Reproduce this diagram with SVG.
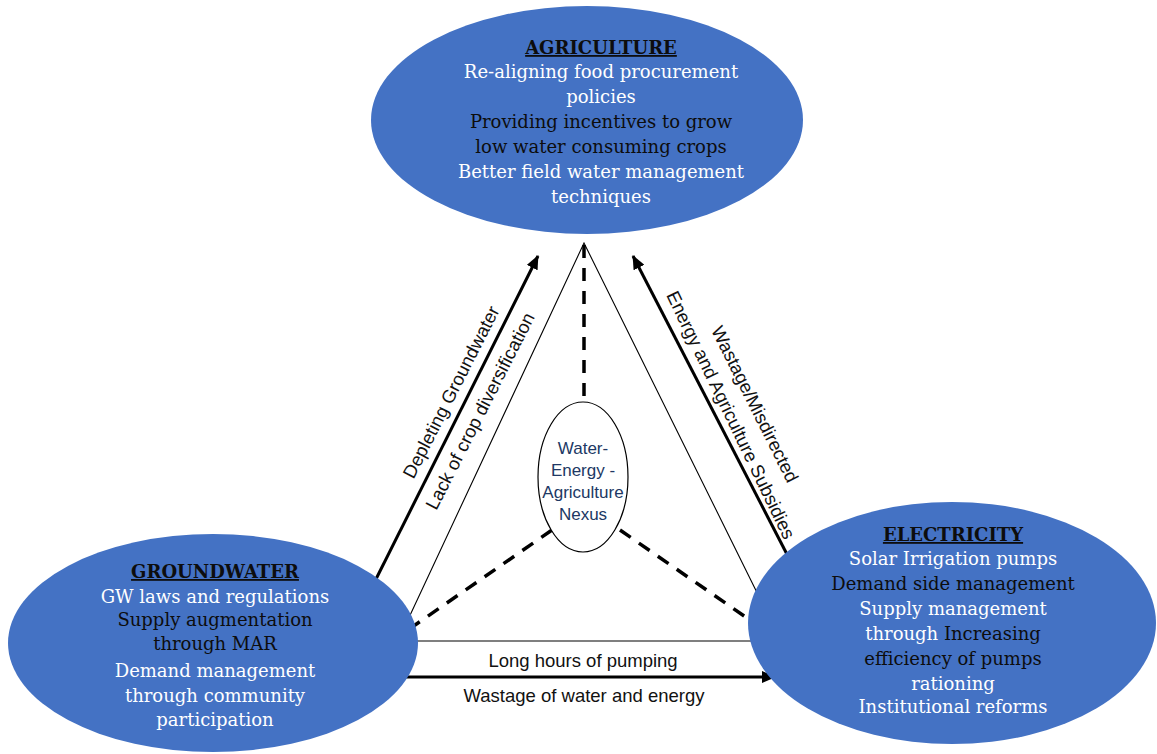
<svg xmlns="http://www.w3.org/2000/svg" width="1157" height="754" viewBox="0 0 1157 754">
<style>
.node{fill:#4472c4;stroke:none}
.t{font-family:"DejaVu Serif","Liberation Serif",serif;font-size:18px;text-anchor:middle}
.w{fill:#ffffff}
.k{fill:#0d0d0d}
.h{font-weight:bold;text-decoration:underline;fill:#0d0d0d}
.lbl{font-family:"Liberation Sans",Arial,sans-serif;font-size:18.5px;fill:#111;text-anchor:middle}
.thin{stroke:#000;stroke-width:1.1;fill:none}
.thick{stroke:#000;stroke-width:3;fill:none}
.dash{stroke:#000;stroke-width:3.5;fill:none;stroke-dasharray:13 10}
.nx{font-family:"Liberation Sans",Arial,sans-serif;font-size:17px;fill:#203864;text-anchor:middle}
</style>
<defs>
<marker id="ah" markerUnits="userSpaceOnUse" markerWidth="14" markerHeight="12" refX="13" refY="6" orient="auto">
<path d="M0,0 L14,6 L0,12 Z" fill="#000"/>
</marker>
</defs>
<rect width="1157" height="754" fill="#ffffff"/>
<g id="connectors">
<polyline class="thin" points="398,641 584,243 781,641"/>
<line class="thin" x1="398" y1="641" x2="781" y2="641"/>
<line class="dash" x1="584" y1="245" x2="584" y2="402"/>
<line class="dash" x1="552" y1="530" x2="405" y2="632"/>
<line class="dash" x1="620" y1="530" x2="760" y2="627"/>
<line class="thick" x1="367" y1="597" x2="538" y2="256" marker-end="url(#ah)"/>
<line class="thick" x1="792" y1="564" x2="633" y2="256" marker-end="url(#ah)"/>
<line class="thick" x1="400" y1="677" x2="775" y2="677" marker-end="url(#ah)"/>
<text class="lbl" transform="translate(451,392) rotate(-63)" y="6.5">Depleting Groundwater</text>
<text class="lbl" transform="translate(480,411) rotate(-63)" y="6.5">Lack of crop diversification</text>
<text class="lbl" transform="translate(755,404) rotate(63.5)" y="6.5">Wastage/Misdirected</text>
<text class="lbl" transform="translate(731,415) rotate(64.3)" y="6.5">Energy and Agriculture Subsidies</text>
<text class="lbl" x="583" y="667">Long hours of pumping</text>
<text class="lbl" x="584" y="702">Wastage of water and energy</text>
</g>
<g id="agriculture">
<ellipse class="node" cx="587" cy="120" rx="216" ry="114"/>
<text class="t h" x="601" y="54">AGRICULTURE</text>
<text class="t w" x="601" y="78">Re-aligning food procurement</text>
<text class="t w" x="601" y="103">policies</text>
<text class="t k" x="601" y="128">Providing incentives to grow</text>
<text class="t k" x="601" y="153">low water consuming crops</text>
<text class="t w" x="601" y="178">Better field water management</text>
<text class="t w" x="601" y="203">techniques</text>
</g>
<g id="nexus">
<ellipse cx="583" cy="477" rx="45" ry="75" fill="#ffffff" stroke="#000" stroke-width="1.2"/>
<text class="nx" x="583" y="454">Water-</text>
<text class="nx" x="583" y="476">Energy -</text>
<text class="nx" x="583" y="498">Agriculture</text>
<text class="nx" x="583" y="520">Nexus</text>
</g>
<g id="groundwater">
<ellipse class="node" cx="213" cy="643" rx="205" ry="109"/>
<text class="t h" x="215" y="578">GROUNDWATER</text>
<text class="t w" x="215" y="603">GW laws and regulations</text>
<text class="t k" x="215" y="626">Supply augmentation</text>
<text class="t k" x="215" y="650">through MAR</text>
<text class="t w" x="215" y="677">Demand management</text>
<text class="t w" x="215" y="702">through community</text>
<text class="t w" x="215" y="726">participation</text>
</g>
<g id="electricity">
<ellipse class="node" cx="952" cy="623" rx="204" ry="121"/>
<text class="t h" x="953" y="541">ELECTRICITY</text>
<text class="t w" x="953" y="565">Solar Irrigation pumps</text>
<text class="t k" x="953" y="590">Demand side management</text>
<text class="t w" x="953" y="615">Supply management</text>
<text class="t" x="953" y="640"><tspan class="w">through </tspan><tspan class="k">Increasing</tspan></text>
<text class="t k" x="953" y="665">efficiency of pumps</text>
<text class="t w" x="953" y="690">rationing</text>
<text class="t w" x="953" y="713">Institutional reforms</text>
</g>
</svg>
